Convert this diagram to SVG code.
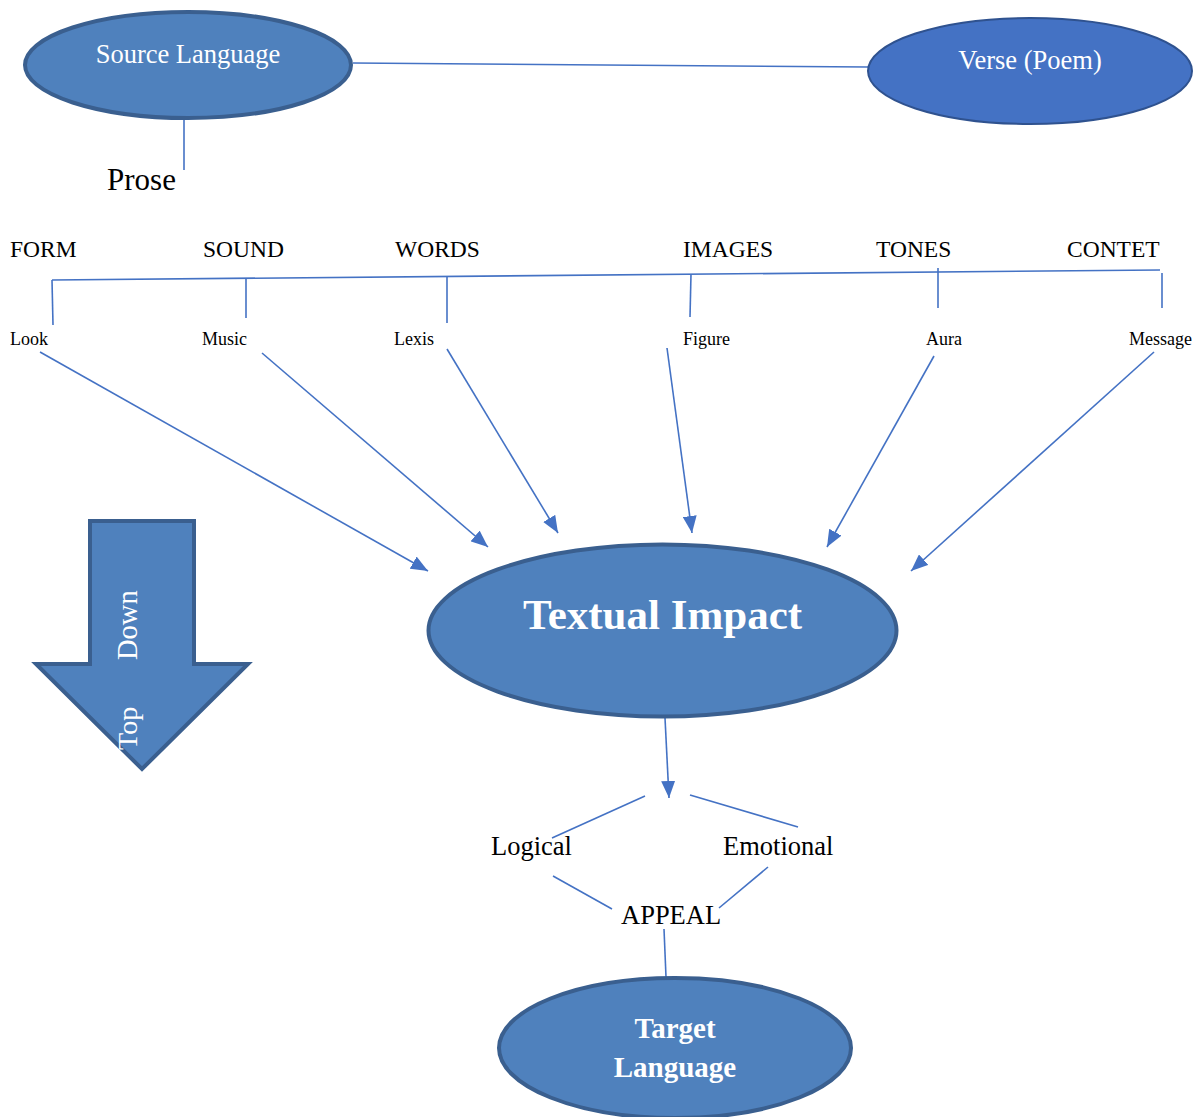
<svg xmlns="http://www.w3.org/2000/svg" width="1200" height="1117" viewBox="0 0 1200 1117">
  <style>
    .conn { stroke: #4472c4; stroke-width: 1.6; fill: none; }
    .node { fill: #4f81bd; stroke: #3a5f8f; stroke-width: 4; }
    .wt { font-family: "Liberation Serif", "Times New Roman", serif; fill: #ffffff; }
    .bt { font-family: "Liberation Serif", "Times New Roman", serif; fill: #000000; }
  </style>
  <defs>
    <marker id="ah" markerUnits="userSpaceOnUse" markerWidth="17" markerHeight="14" refX="17" refY="7" orient="auto">
      <path d="M0,0 L17,7 L0,14 z" fill="#4472c4"/>
    </marker>
  </defs>
  <rect width="1200" height="1117" fill="#ffffff"/>

  <g id="connectors">
    <line class="conn" x1="353" y1="63" x2="868" y2="67"/>
    <line class="conn" x1="184" y1="112" x2="184" y2="170"/>
    <line class="conn" x1="52" y1="280" x2="1160" y2="270" stroke-width="2"/>
    <line class="conn" x1="52" y1="280" x2="53" y2="325"/>
    <line class="conn" x1="246" y1="278" x2="246" y2="318"/>
    <line class="conn" x1="447" y1="277" x2="447" y2="323"/>
    <line class="conn" x1="691" y1="274" x2="690" y2="317"/>
    <line class="conn" x1="938" y1="268" x2="938" y2="308"/>
    <line class="conn" x1="1162" y1="273" x2="1162" y2="308"/>
    <line class="conn" x1="40" y1="352" x2="428" y2="571" marker-end="url(#ah)"/>
    <line class="conn" x1="262" y1="353" x2="488" y2="547" marker-end="url(#ah)"/>
    <line class="conn" x1="447" y1="349" x2="558" y2="533" marker-end="url(#ah)"/>
    <line class="conn" x1="667" y1="348" x2="692" y2="533" marker-end="url(#ah)"/>
    <line class="conn" x1="934" y1="356" x2="827" y2="547" marker-end="url(#ah)"/>
    <line class="conn" x1="1154" y1="352" x2="911" y2="571" marker-end="url(#ah)"/>
    <line class="conn" x1="665" y1="718" x2="669" y2="798" marker-end="url(#ah)" stroke="#4a7ebb" stroke-width="2"/>
    <line class="conn" x1="645" y1="796" x2="552" y2="838" stroke-width="2"/>
    <line class="conn" x1="690" y1="795" x2="798" y2="827"/>
    <line class="conn" x1="553" y1="876" x2="612" y2="909" stroke-width="2"/>
    <line class="conn" x1="768" y1="867" x2="719" y2="908"/>
    <line class="conn" x1="664" y1="929" x2="666" y2="977"/>
  </g>

  <g id="source-language">
    <ellipse class="node" cx="188" cy="65" rx="163" ry="53"/>
    <text class="wt" x="188" y="63" font-size="26.5" text-anchor="middle">Source Language</text>
  </g>

  <g id="verse">
    <ellipse cx="1030" cy="71" rx="162" ry="53" fill="#4472c4" stroke="#2f528f" stroke-width="2"/>
    <text class="wt" x="1030" y="69" font-size="26.5" text-anchor="middle">Verse (Poem)</text>
  </g>

  <g id="prose">
    <text class="bt" x="107" y="190" font-size="31">Prose</text>
  </g>

  <g id="categories" font-size="23.5">
    <text class="bt" x="10" y="257">FORM</text>
    <text class="bt" x="203" y="257">SOUND</text>
    <text class="bt" x="395" y="257">WORDS</text>
    <text class="bt" x="683" y="257">IMAGES</text>
    <text class="bt" x="876" y="257">TONES</text>
    <text class="bt" x="1067" y="257">CONTET</text>
  </g>

  <g id="subcategories" font-size="18">
    <text class="bt" x="10" y="345">Look</text>
    <text class="bt" x="202" y="345">Music</text>
    <text class="bt" x="394" y="345">Lexis</text>
    <text class="bt" x="683" y="345">Figure</text>
    <text class="bt" x="926" y="345">Aura</text>
    <text class="bt" x="1129" y="345">Message</text>
  </g>

  <g id="top-down-arrow">
    <polygon class="node" points="90,521 194,521 194,664 248,664 142,769 36,664 90,664"/>
    <text class="wt" font-size="28.5" transform="translate(137,660) rotate(-90)">Down</text>
    <text class="wt" font-size="28" transform="translate(137,750) rotate(-90)">Top</text>
  </g>

  <g id="textual-impact">
    <ellipse class="node" cx="662.5" cy="630.5" rx="234" ry="86"/>
    <text class="wt" x="662.5" y="629" font-size="43" font-weight="bold" text-anchor="middle">Textual Impact</text>
  </g>

  <g id="logical">
    <text class="bt" x="491" y="855" font-size="26.5">Logical</text>
  </g>
  <g id="emotional">
    <text class="bt" x="723" y="855" font-size="26.5">Emotional</text>
  </g>
  <g id="appeal">
    <text class="bt" x="621" y="924" font-size="26.5">APPEAL</text>
  </g>

  <g id="target-language">
    <ellipse class="node" cx="675" cy="1048" rx="176" ry="70"/>
    <text class="wt" x="675" y="1038" font-size="29" font-weight="bold" text-anchor="middle">Target</text>
    <text class="wt" x="675" y="1077" font-size="29" font-weight="bold" text-anchor="middle">Language</text>
  </g>
</svg>
